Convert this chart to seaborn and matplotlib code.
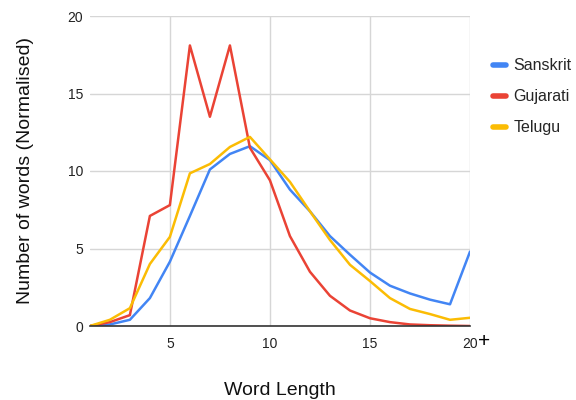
import numpy as np
import pandas as pd
import matplotlib
matplotlib.use("Agg")
import matplotlib.pyplot as plt
import seaborn as sns

# word length 1..20 (20 means 20 and above)
word_length = list(range(1, 21))
sanskrit = [0, 0.1, 0.4, 1.8, 4.15, 7.1, 10.1, 11.1, 11.6, 10.7,
            8.8, 7.4, 5.8, 4.6, 3.45, 2.6, 2.1, 1.7, 1.4, 4.8]
gujarati = [0, 0.25, 0.7, 7.1, 7.8, 18.1, 13.5, 18.1, 11.5, 9.4,
            5.8, 3.5, 1.95, 1.0, 0.5, 0.25, 0.1, 0.05, 0.02, 0.0]
telugu = [0, 0.4, 1.15, 4.0, 5.75, 9.85, 10.45, 11.55, 12.2, 10.75,
          9.3, 7.4, 5.55, 3.95, 2.9, 1.8, 1.1, 0.77, 0.4, 0.53]
languages = ["Sanskrit", "Gujarati", "Telugu"]
colors = ["#4285f4", "#ea4335", "#fbbc04"]
x_ticks = [5, 10, 15, 20]
x_tick_labels = ["5", "10", "15", "20"]
y_ticks = [0, 5, 10, 15, 20]

df = pd.DataFrame({"length": word_length, "Sanskrit": sanskrit,
                   "Gujarati": gujarati, "Telugu": telugu})
long_df = df.melt(id_vars="length", var_name="language", value_name="count")

sns.set_style("white")
plt.rcParams['font.family'] = ['Liberation Sans', 'DejaVu Sans']

fig = plt.figure(figsize=(5.76, 4), dpi=100)
ax = fig.add_axes([0.156, 0.185, 0.66, 0.775])

sns.lineplot(data=long_df, x="length", y="count", hue="language",
             hue_order=languages, palette=colors, linewidth=1.8, ax=ax)

ax.set_xlim(1, 20)
ax.set_ylim(0, 20)
ax.set_xticks(x_ticks)
ax.set_xticklabels(x_tick_labels)
ax.set_yticks(y_ticks)
ax.grid(True, color="#d6d6d6", linewidth=1)
ax.set_axisbelow(True)
for s in ["top", "right", "left"]:
    ax.spines[s].set_visible(False)
ax.spines["bottom"].set_color("#333333")
ax.spines["bottom"].set_linewidth(1.2)
ax.tick_params(axis="both", length=0, labelsize=10, colors="#222222")
ax.tick_params(axis="x", pad=8)
ax.tick_params(axis="y", pad=5)
# the "+" after the last tick label (20 and above)
ax.annotate("+", xy=(20, 0), xycoords="data", xytext=(10, -11),
            textcoords="offset points", fontsize=15, color="black",
            ha="center", va="center")

ax.set_xlabel("Word Length", fontsize=14, labelpad=22, color="#111111")
ax.set_ylabel("Number of words (Normalised)", fontsize=14, labelpad=24, color="#111111")

leg = ax.legend(loc="upper left", bbox_to_anchor=(1.022, 0.91), frameon=False,
                fontsize=11.5, handlelength=0.8, handletextpad=0.5, labelspacing=1.0)
for line in leg.get_lines():
    line.set_linewidth(4)

fig.savefig("out.png", dpi=100)
